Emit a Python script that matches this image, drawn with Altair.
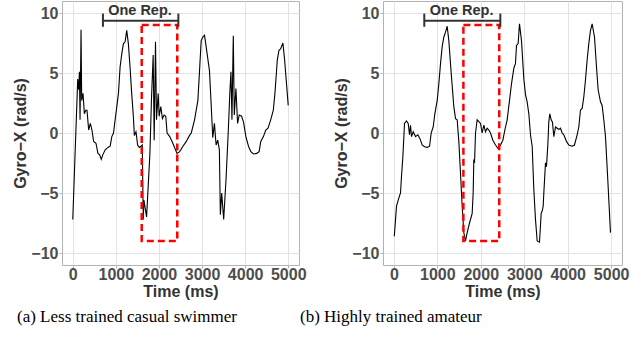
import altair as alt
import pandas as pd

# ---- data ----
left_t = [0,115,138,154,169,192,207,238,269,300,330,369,407,445,484,538,584,622,661,699,753,814,868,906,945,983,1022,1060,1098,1137,1175,1214,1252,1290,1329,1367,1406,1429,1467,1505,1544,1582,1613,1636,1651,1713,1790,1828,1866,1889,1920,1943,1982,2005,2043,2081,2120,2158,2189,2250,2327,2419,2481,2558,2634,2711,2750,2826,2903,2942,2980,3018,3057,3095,3172,3210,3249,3287,3326,3364,3402,3425,3456,3502,3556,3610,3648,3671,3694,3725,3748,3786,3825,3863,3917,3963,4017,4078,4132,4194,4270,4324,4363,4424,4478,4531,4593,4654,4693,4747,4785,4823,4877,4916,5000]
left_v = [-7.2,4.5,3.6,5.1,1.1,8.6,2.7,3.3,1.6,1.9,1.9,0.25,0.8,0.25,-0.7,-0.85,-1.7,-1.8,-2.2,-1.8,-1.4,-1.2,-1.1,-0.3,0,1.1,2.2,3.3,5.5,6.6,7.45,7.6,8.55,7.45,5.5,3.3,1.4,-0.2,0.1,-1.0,-1.2,-1.1,-1.0,-7.2,-5.6,-7.0,-1.7,3.0,6.5,-0.6,7.6,1.1,3.3,1.4,2.2,1.2,1.5,1.4,0,-0.3,-0.9,-1.7,-1.55,-1.1,-0.7,-0.2,0,1.1,2.7,5.2,7.7,8.0,8.15,7.2,5.2,2.5,-0.4,0.8,-1.0,-0.6,-1.4,-6.8,-5.0,-7.2,-3.9,0.25,3.6,5.1,1.1,8.1,1.5,3.7,0.8,1.5,1.4,0.9,-0.3,-1.1,-1.55,-1.75,-1.7,-1.55,-0.7,-0.3,0.25,0.4,1.1,1.9,3.4,6.1,6.9,7.0,7.5,6.1,2.3]

right_t = [10,61,115,153,176,207,245,291,330,360,383,406,445,498,552,598,652,706,767,821,859,905,943,997,1035,1074,1112,1150,1189,1227,1265,1319,1380,1419,1457,1495,1534,1572,1610,1649,1687,1741,1802,1825,1840,1856,1879,1917,1956,1994,2032,2071,2109,2147,2186,2224,2278,2339,2400,2454,2508,2554,2607,2661,2707,2761,2799,2822,2860,2891,2937,2991,3029,3067,3106,3144,3183,3221,3259,3298,3351,3390,3413,3436,3451,3489,3512,3543,3566,3589,3620,3650,3681,3720,3758,3796,3834,3873,3911,3972,4026,4103,4156,4218,4256,4294,4333,4371,4409,4448,4486,4525,4563,4617,4663,4701,4755,4793,4831,4870,4923,4985]
right_v = [-8.6,-6.1,-5.4,-5.0,-3.6,-2.0,0.8,1.0,0.8,-0.15,0.65,-0.3,0.1,-0.3,-0.15,-0.45,-1.0,-1.15,-1.2,-1.1,0,0.5,1.6,2.7,4.1,5.8,7.2,8.0,8.4,8.9,7.7,5.0,2.2,1.2,1.1,-0.7,-3.4,-6.1,-8.3,-9.0,-8.3,-7.5,-6.7,-5.0,-2.2,-2.5,0,1.1,0.95,0.8,0,0.65,0.1,0.4,0.25,0,-0.6,-1.0,-1.3,-1.0,-0.6,0.25,1.1,2.7,4.1,5.4,5.8,7.3,7.45,9.1,7.7,4.5,3.2,2.6,1.6,-0.15,-1.1,-4.7,-7.2,-9.0,-9.1,-6.7,-6.5,-6.1,-5.0,-2.5,-2.8,-1.0,0.95,1.6,1.1,0.9,-0.3,0.5,0.4,0.3,0.4,0,-0.15,-0.7,-1.0,-1.1,-1.0,-0.15,0.5,1.9,2.05,3.0,4.4,6.1,7.45,8.55,9.1,8.0,5.5,3.6,2.6,2.3,1.1,-0.3,-3.9,-8.3]

captions = ["(a) Less trained casual swimmer", "(b) Highly trained amateur"]

x_ticks = [0, 500, 1000, 1500, 2000, 2500, 3000, 3500, 4000, 4500, 5000]
y_ticks = [-10, -7.5, -5, -2.5, 0, 2.5, 5, 7.5, 10]
x_domain = [-250, 5250]
y_domain = [-11, 11]

rep_box = {"t0": [1600], "t1": [2425], "v0": [-9.0], "v1": [9.0]}
bracket = {"t0": [700], "t1": [2450], "v": [9.35], "lo": [8.85], "hi": [9.95]}
rep_label = {"t": [1560], "v": [10.15], "label": ["One Rep."]}

X_TITLE = "Time (ms)"
Y_TITLE = "Gyro\u2212X (rad/s)"


def panel(t, v, caption, dx, w):
    df = pd.DataFrame({"t": t, "v": v})
    xs = alt.Scale(domain=x_domain, nice=False, zero=False)
    ys = alt.Scale(domain=y_domain, nice=False, zero=False)
    xaxis = alt.Axis(
        values=x_ticks,
        labelExpr="datum.value % 1000 == 0 ? datum.label : ''",
        gridColor={"condition": {"test": "datum.value % 1000 != 0", "value": "#f2f2f2"}, "value": "#e3e3e3"},
        tickOpacity={"condition": {"test": "datum.value % 1000 != 0", "value": 0}, "value": 1},
        format="d",
    )
    yaxis = alt.Axis(
        values=y_ticks,
        labelExpr="datum.value % 5 == 0 ? datum.label : ''",
        gridColor={"condition": {"test": "datum.value % 5 != 0", "value": "#f2f2f2"}, "value": "#e3e3e3"},
        tickOpacity={"condition": {"test": "datum.value % 5 != 0", "value": 0}, "value": 1},
    )
    line = alt.Chart(df).mark_line(color="black", strokeWidth=1.1).encode(
        x=alt.X("t:Q", scale=xs, axis=xaxis, title=X_TITLE),
        y=alt.Y("v:Q", scale=ys, axis=yaxis, title=Y_TITLE),
    )
    box = alt.Chart(pd.DataFrame(rep_box)).mark_rect(
        fillOpacity=0, stroke="#ff0000", strokeWidth=2.5, strokeDash=[7, 4]
    ).encode(
        x=alt.X("t0:Q", scale=xs), x2="t1:Q",
        y=alt.Y("v0:Q", scale=ys), y2="v1:Q",
    )
    bdf = pd.DataFrame(bracket)
    hbar = alt.Chart(bdf).mark_rule(color="#333333", strokeWidth=2).encode(
        x=alt.X("t0:Q", scale=xs), x2="t1:Q", y=alt.Y("v:Q", scale=ys)
    )
    lt = alt.Chart(bdf).mark_rule(color="#333333", strokeWidth=2).encode(
        x=alt.X("t0:Q", scale=xs), y=alt.Y("lo:Q", scale=ys), y2="hi:Q"
    )
    rt = alt.Chart(bdf).mark_rule(color="#333333", strokeWidth=2).encode(
        x=alt.X("t1:Q", scale=xs), y=alt.Y("lo:Q", scale=ys), y2="hi:Q"
    )
    txt = alt.Chart(pd.DataFrame(rep_label)).mark_text(
        font="Liberation Sans", fontWeight="bold", fontSize=14.5, color="#333333",
        align="center", baseline="middle"
    ).encode(x=alt.X("t:Q", scale=xs), y=alt.Y("v:Q", scale=ys), text="label:N")
    return alt.layer(line, box, hbar, lt, rt, txt).properties(
        width=w, height=264,
        title=alt.TitleParams(
            caption, orient="bottom", anchor="start", frame="group",
            font="Liberation Serif", fontSize=17, fontWeight="normal",
            color="black", offset=10, dx=dx,
        ),
    )


chart = alt.hconcat(
    panel(left_t, left_v, captions[0], -45, 237),
    panel(right_t, right_v, captions[1], -83, 239),
    spacing=84,
    bounds="flush",
).properties(
    padding={"left": 12, "top": 0, "right": 0, "bottom": 0},
    background="white",
).configure_view(
    stroke="#b3b3b3", strokeWidth=1
).configure_axis(
    labelFont="Liberation Sans", labelFontWeight="bold", labelFontSize=16,
    labelColor="#4d4d4d", titleFont="Liberation Sans", titleFontWeight="bold",
    titleFontSize=16, titleColor="#333333", domain=False, tickColor="#b3b3b3",
    tickSize=3, labelPadding=1, gridWidth=1,
).configure_axisX(titlePadding=1, labelPadding=-2).configure_axisY(titlePadding=2)

chart.save("out.html", embed_options={"renderer": "svg", "actions": False})
